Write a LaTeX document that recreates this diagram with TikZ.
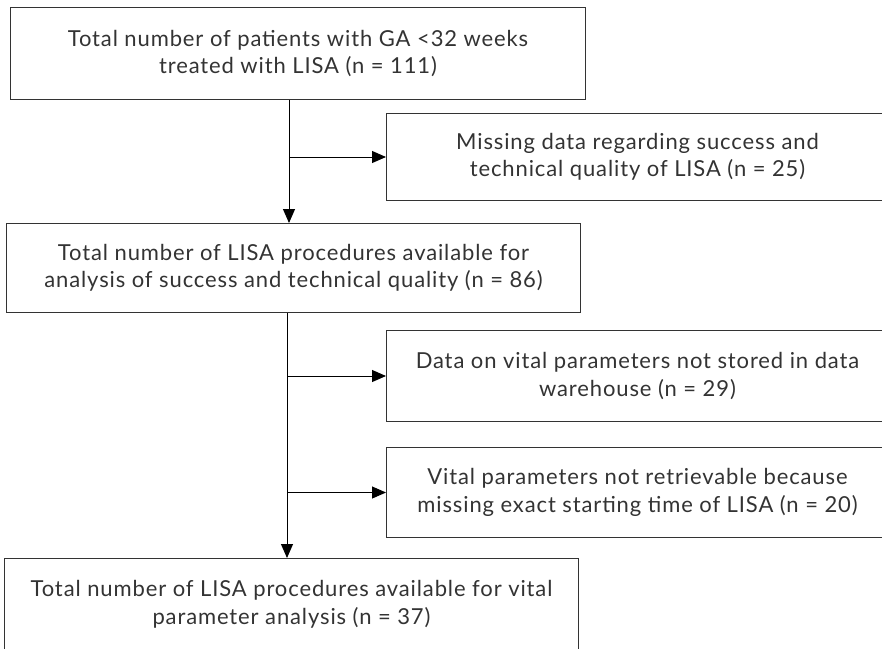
\documentclass[tikz,border=0pt]{standalone}
\usepackage{fontspec}
\setmainfont{Lato}[LetterSpace=4]
\usetikzlibrary{arrows.meta}
\definecolor{txt}{HTML}{333333}
\definecolor{edge}{HTML}{333333}
\begin{document}
\begin{tikzpicture}[x=1pt,y=1pt,
  box/.style={draw=edge, line width=1pt, rectangle, align=center, text=txt,
    font=\fontsize{22}{27.5}\selectfont, inner sep=0pt, anchor=north west},
  arr/.style={draw=black, line width=1pt, -{Triangle[length=14pt,width=12pt]}}]
\useasboundingbox (0,0) rectangle (882,-648);
\clip (0,0) rectangle (882,-648);
\node[box, minimum width=575pt, minimum height=92pt] (b1) at (10,-7)
  {Total number of patients with GA <32 weeks\\treated with LISA (n = 111)};
\node[box, minimum width=502pt, minimum height=87pt] (b2) at (386,-113)
  {Missing data regarding success and\\technical quality of LISA (n = 25)};
\node[box, minimum width=574pt, minimum height=89pt] (b3) at (6,-223)
  {Total number of LISA procedures available for\\analysis of success and technical quality (n = 86)};
\node[box, minimum width=502pt, minimum height=91pt] (b4) at (386,-330)
  {Data on vital parameters not stored in data\\warehouse (n = 29)};
\node[box, minimum width=502pt, minimum height=90pt] (b5) at (386,-447)
  {Vital parameters not retrievable because\\missing exact starting time of LISA (n = 20)};
\node[box, minimum width=574pt, minimum height=92pt] (b6) at (4,-558)
  {Total number of LISA procedures available for vital\\parameter analysis (n = 37)};
\coordinate (c1) at (289,0);
\coordinate (c2) at (287,0);
\draw[arr] (b1.south -| c1) -- (b3.north -| c1);
\draw[arr] (c1 |- b2.west) -- (b2.west);
\draw[arr] (b3.south -| c2) -- (b6.north -| c2);
\draw[arr] (c2 |- b4.west) -- (b4.west);
\draw[arr] (c2 |- b5.west) -- (b5.west);
\end{tikzpicture}
\end{document}
